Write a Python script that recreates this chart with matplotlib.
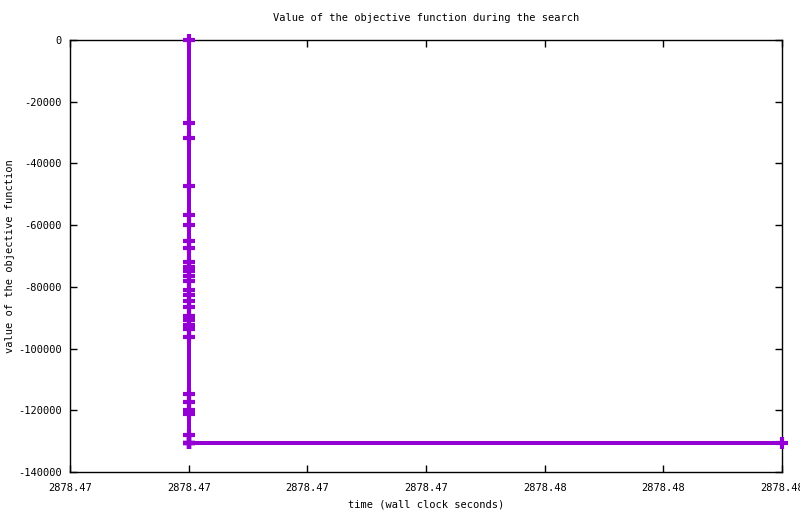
import matplotlib
matplotlib.use('Agg')
import matplotlib.pyplot as plt
from matplotlib.ticker import FixedLocator, FormatStrFormatter

# search progress: wall clock time vs objective value
times = [2878.4700] * 32 + [2878.4800]
values = [0, -26800, -31700, -47200, -56600, -59900, -65000, -67300,
          -71800, -73500, -75000, -76500, -78000, -80900, -82500, -84500,
          -86500, -89300, -90800, -92300, -93800, -96200, -114800, -117200,
          -119900, -121200, -128000, -130500, -130500, -130500, -130500,
          -130500, -130500]

xticks = [2878.468, 2878.470, 2878.472, 2878.474, 2878.476, 2878.478, 2878.480]
yticks = [0, -20000, -40000, -60000, -80000, -100000, -120000, -140000]

font = 'DejaVu Sans Mono'
fs = 7.5

fig = plt.figure(figsize=(8, 5.14), dpi=100)
ax = fig.add_axes([0.0875, 0.0817, 0.89, 0.8405])

ax.plot(times, values, color='#9400D3', linewidth=2.9, marker='+',
        markersize=8, markeredgewidth=3, clip_on=False, zorder=3)

ax.set_xlim(xticks[0], xticks[-1])
ax.set_ylim(-140000, 0)
ax.xaxis.set_major_locator(FixedLocator(xticks))
ax.yaxis.set_major_locator(FixedLocator(yticks))
ax.xaxis.set_major_formatter(FormatStrFormatter('%.2f'))
ax.yaxis.set_major_formatter(FormatStrFormatter('%d'))
ax.tick_params(direction='in', length=5, width=1, top=True, right=True,
               labelsize=fs)
ax.tick_params(axis='x', pad=8)
ax.tick_params(axis='y', pad=6)
for lab in ax.get_xticklabels() + ax.get_yticklabels():
    lab.set_family(font)
for s in ax.spines.values():
    s.set_linewidth(1)

ax.set_title('Value of the objective function during the search',
             fontsize=fs, family=font, pad=14)
ax.set_xlabel('time (wall clock seconds)', fontsize=fs, family=font, va='center')
ax.xaxis.set_label_coords(0.5, -0.076)
ax.set_ylabel('value of the objective function', fontsize=fs, family=font, va='center')
ax.yaxis.set_label_coords(-0.084, 0.5)

fig.savefig('out.png', dpi=100)
